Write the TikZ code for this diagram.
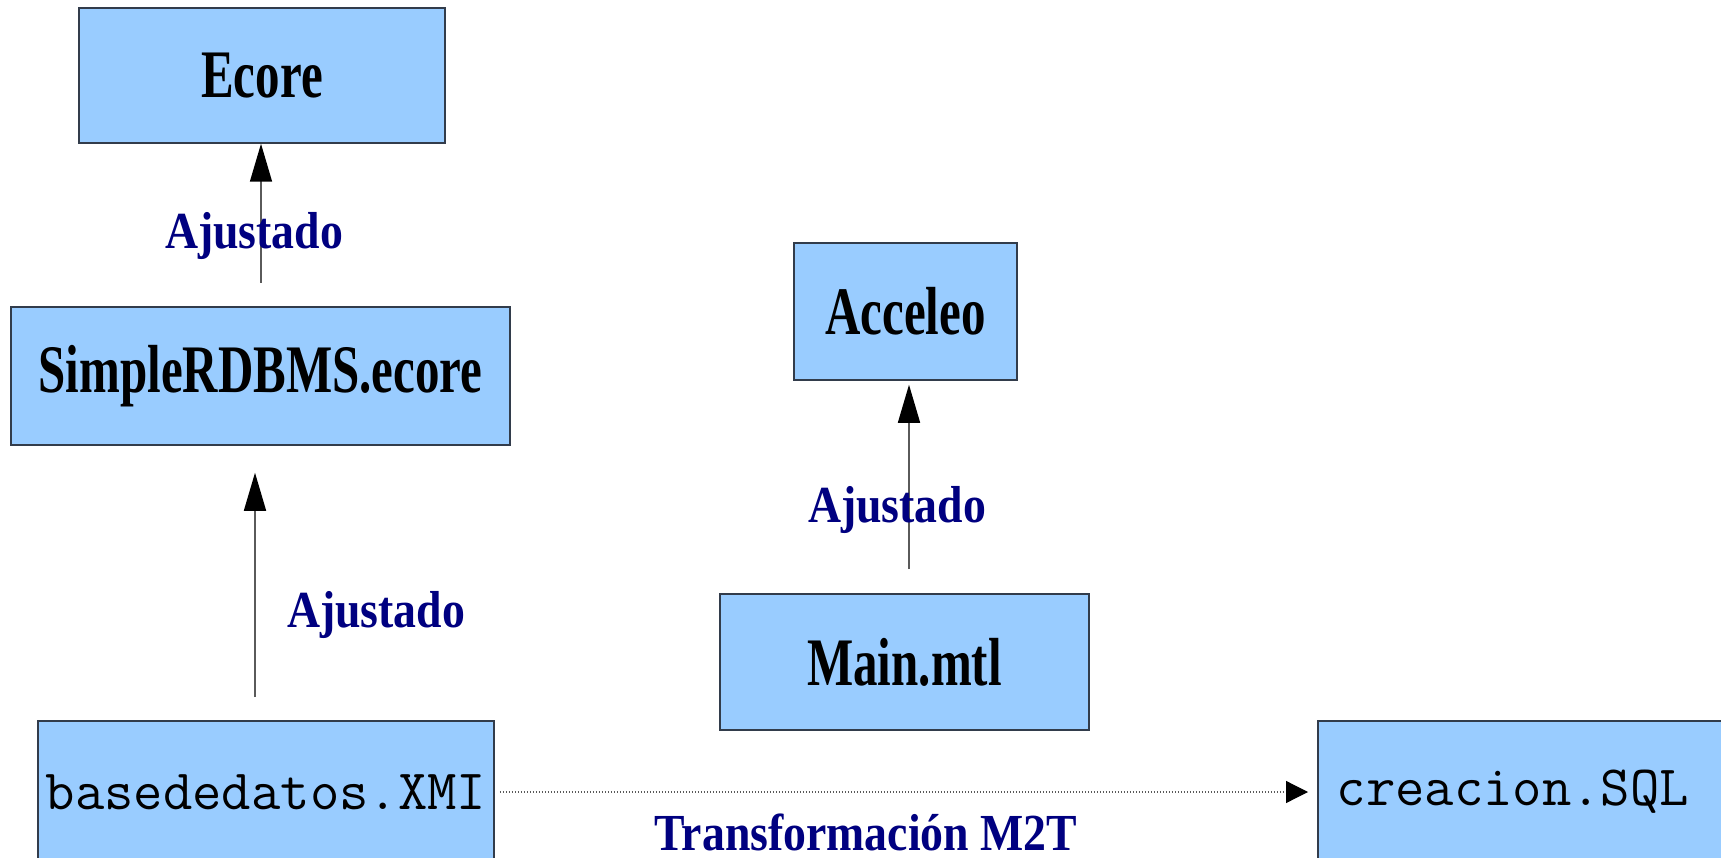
\documentclass[tikz,border=0pt]{standalone}
\usepackage{fontspec}
\setmainfont{Liberation Serif}
\usetikzlibrary{arrows.meta}
\definecolor{boxfill}{RGB}{153,204,255}
\definecolor{boxline}{RGB}{50,60,75}
\definecolor{lblcol}{RGB}{0,0,128}
\definecolor{linecol}{RGB}{90,90,90}
\newcommand{\bigtxt}[1]{\scalebox{0.72}[1]{\fontsize{68}{72}\selectfont\bfseries #1}}
\newcommand{\lbltxt}[1]{\scalebox{0.88}[1]{\fontsize{52}{56}\selectfont\bfseries #1}}
\newcommand{\monotxt}[1]{{\fontsize{57}{60}\selectfont\ttfamily #1}}
\tikzset{
  box/.style={draw=boxline, line width=1.5pt, fill=boxfill, inner sep=0pt, text=black},
  lbl/.style={text=lblcol, inner sep=0pt, anchor=base},
  conn/.style={draw=linecol, line width=1.6pt, -{Triangle[length=38pt,width=22pt,color=black]}},
  dotconn/.style={draw=linecol, line width=1.2pt, dash pattern=on 1.5pt off 1.5pt, -{Triangle[length=22pt,width=22pt,color=black]}}
}
\begin{document}
\begin{tikzpicture}[x=1pt,y=-1pt]
\clip (0,0) rectangle (1721,858);
\fill[white] (0,0) rectangle (1721,858);
% boxes
\node[box, minimum width=366pt, minimum height=135pt] (ecore) at (262,75.5) {\bigtxt{Ecore}};
\node[box, minimum width=499pt, minimum height=138pt] (simple) at (260.5,376) {\bigtxt{SimpleRDBMS.ecore}};
\node[box, minimum width=456pt, minimum height=142pt] (xmi) at (266,792) {\monotxt{basededatos.XMI}};
\node[box, minimum width=223pt, minimum height=137pt] (acceleo) at (905.5,311.5) {\bigtxt{Acceleo}};
\node[box, minimum width=369pt, minimum height=136pt] (main) at (904.5,662) {\bigtxt{Main.mtl}};
\node[box, minimum height=142pt, anchor=west] (sql) at (1317,792) {\monotxt{\makebox[430pt][l]{\hspace{19pt}creacion.SQL}}};
% connectors
\coordinate (s1) at (261,283);
\draw[conn] (s1) -- (ecore.south -| s1);
\coordinate (s2) at (255,697);
\draw[conn, shorten >=27pt] (s2) -- (simple.south -| s2);
\coordinate (s3) at (909,569);
\draw[conn, shorten >=4pt] (s3) -- (acceleo.south -| s3);
\draw[dotconn, shorten <=5pt, shorten >=9pt] (xmi.east) -- (sql.west);
% labels
\node[lbl] (l1) at (254,249) {\lbltxt{Ajustado}};
\node[lbl] (l2) at (376,627) {\lbltxt{Ajustado}};
\node[lbl] (l3) at (897,522) {\lbltxt{Ajustado}};
\node[lbl] (l4) at (866,850) {\lbltxt{Transformación M2T}};
\end{tikzpicture}
\end{document}
